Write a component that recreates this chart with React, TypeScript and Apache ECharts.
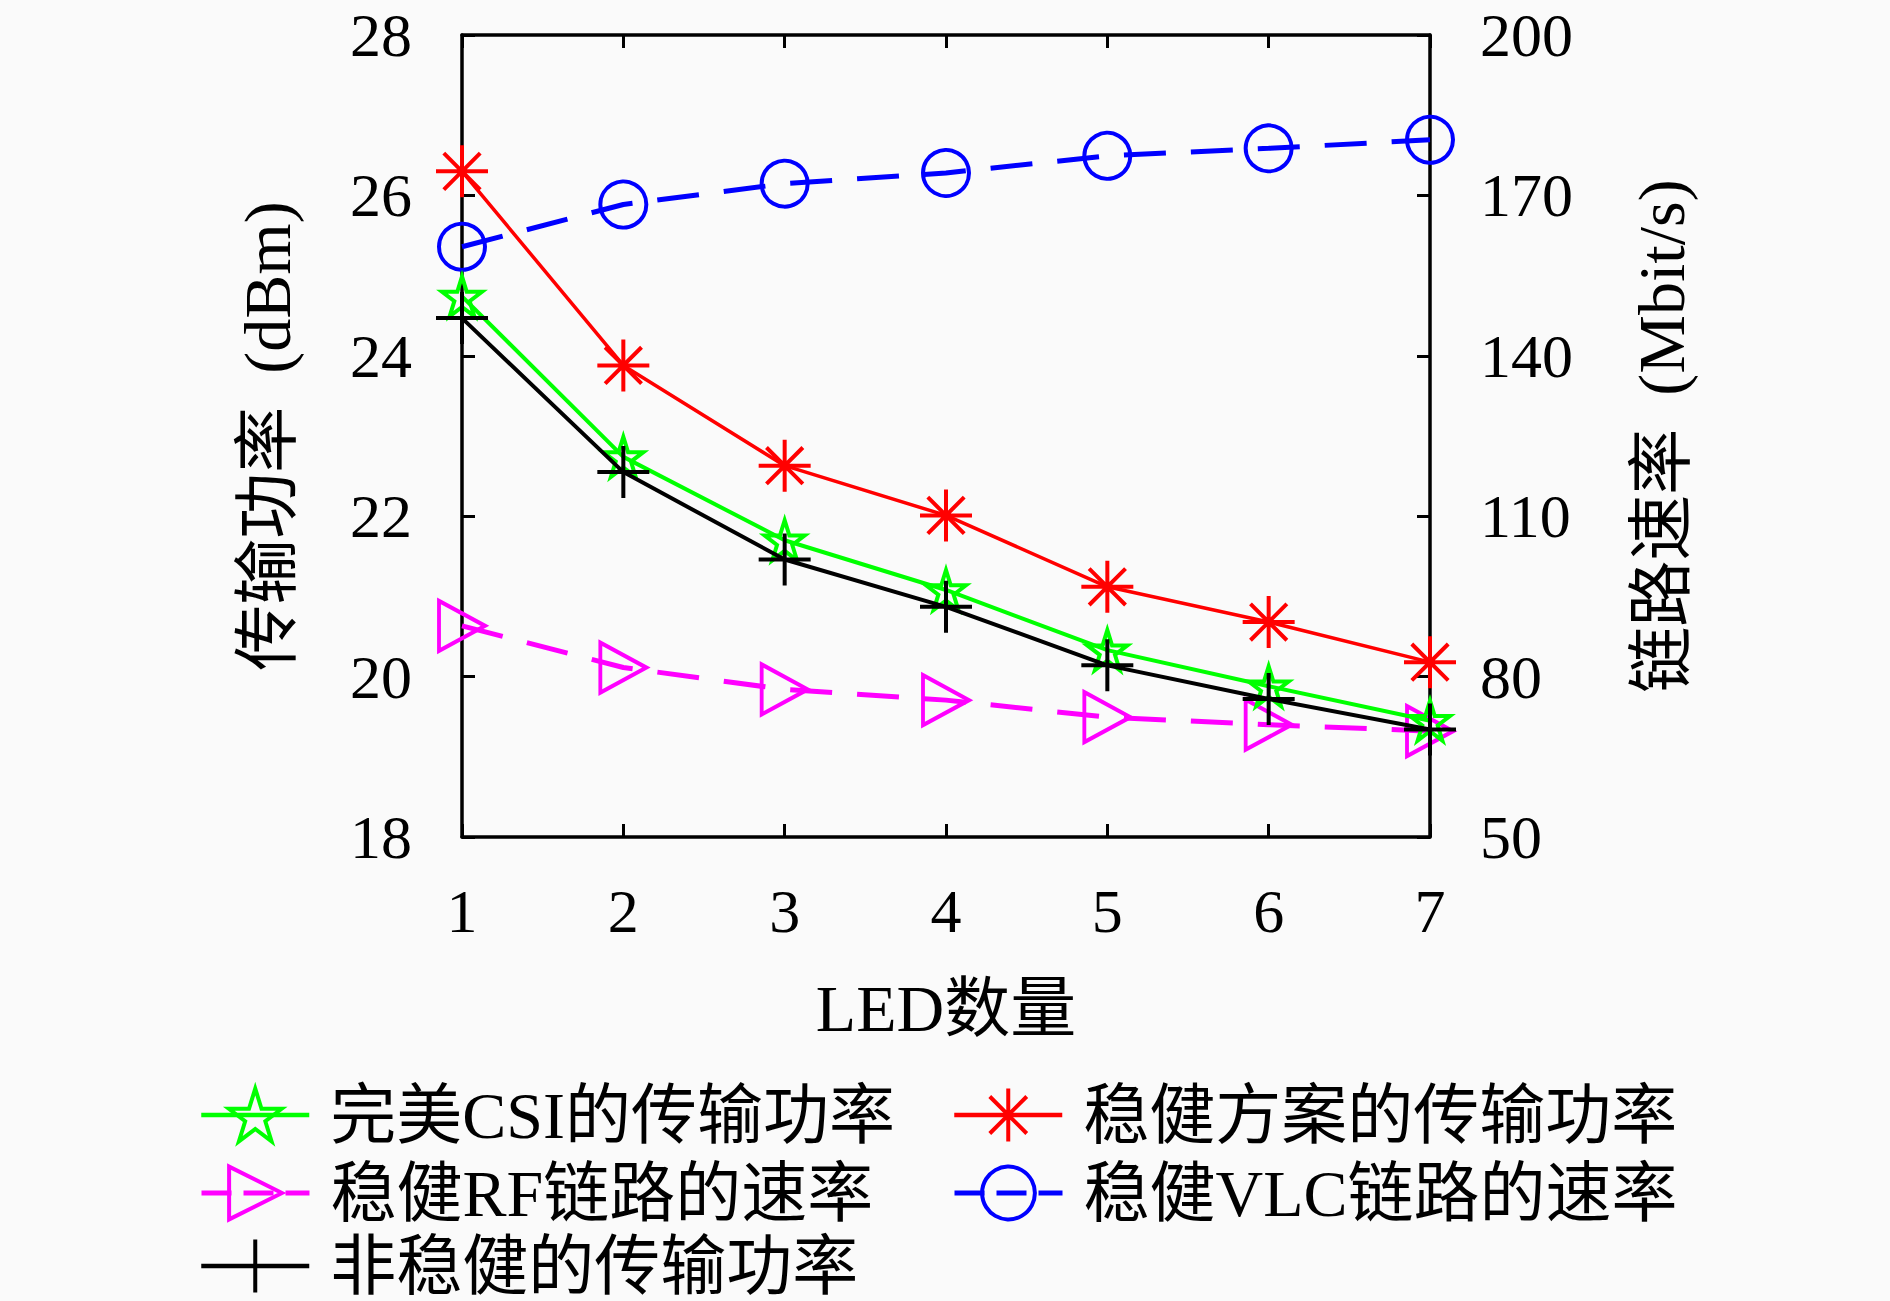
import React, { useEffect, useRef } from "react";
import * as echarts from "echarts";

// ---- data ----
const ledCounts = ["1", "2", "3", "4", "5", "6", "7"];
const perfectCsiPower = [24.74, 22.74, 21.7, 21.08, 20.33, 19.88, 19.45];
const robustPower = [26.3, 23.88, 22.63, 22.01, 21.12, 20.68, 20.18];
const rfRate = [89.5, 81.7, 77.6, 75.6, 72.4, 71.0, 69.8];
const vlcRate = [160.4, 168.3, 172.2, 174.2, 177.4, 178.8, 180.4];
const nonRobustPower = [24.47, 22.55, 21.46, 20.87, 20.14, 19.72, 19.34];
const rightTicks = [50, 80, 110, 140, 170, 200];

const names = {
  csi: "完美CSI的传输功率",
  robust: "稳健方案的传输功率",
  rf: "稳健RF链路的速率",
  vlc: "稳健VLC链路的速率",
  non: "非稳健的传输功率",
};

const STAR =
  "path://M0,-1 L0.225,-0.309 L0.951,-0.309 L0.363,0.118 L0.588,0.809 L0,0.382 L-0.588,0.809 L-0.363,0.118 L-0.951,-0.309 L-0.225,-0.309 Z";
const ASTER =
  "path://M0,-1 L0,1 M-1,0 L1,0 M-0.7,-0.7 L0.7,0.7 M-0.7,0.7 L0.7,-0.7";
const PLUS = "path://M0,-1 L0,1 M-1,0 L1,0";
const TRI = "path://M-1,-1 L1,0 L-1,1 Z";

const FONT = "'Liberation Serif', 'DejaVu Serif', 'Noto Sans CJK SC', serif";

export default function App() {
  const ref = useRef<HTMLDivElement>(null);
  useEffect(() => {
    if (!ref.current) return;
    const chart = echarts.init(ref.current, null, { renderer: "svg" });
    const mk = (
      name: string,
      data: number[],
      color: string,
      symbol: string,
      size: number | number[],
      yAxisIndex: number,
      dashed: boolean,
      width: number,
      z: number
    ) => ({
      name,
      type: "line",
      data,
      yAxisIndex,
      symbol,
      symbolSize: size,
      showAllSymbol: true,
      z,
      lineStyle: {
        color,
        width,
        type: dashed ? [42, 25] : "solid",
      },
      itemStyle: {
        color: "rgba(0,0,0,0)",
        borderColor: color,
        borderWidth: 4,
      },
      emphasis: { disabled: true },
    });
    const axisLine = { show: true, onZero: false, lineStyle: { color: "#000", width: 3.5 } };
    const tick = { show: true, inside: true, length: 13, lineStyle: { color: "#000", width: 3 } };
    const labelStyle = { color: "#000", fontFamily: FONT, fontSize: 62 };
    const leg = (
      name: string,
      color: string,
      left: number,
      top: number,
      dashed: boolean
    ) => ({
      orient: "vertical",
      left,
      top,
      padding: 0,
      itemWidth: 108,
      itemHeight: 66,
      textStyle: {
        color: "#000",
        fontFamily: FONT,
        fontSize: 66,
        lineHeight: 66,
        padding: [0, 0, 0, 16],
      },
      selectedMode: false,
      data: [
        {
          name,
          itemStyle: { color: "rgba(0,0,0,0)", borderColor: color, borderWidth: 4 },
          lineStyle: dashed ? { type: [30, 12], width: 5 } : { width: 4.5 },
        },
      ],
    });
    chart.setOption({
      animation: false,
      backgroundColor: "#fafafa",
      grid: { left: 462, right: 460, top: 35, bottom: 464, containLabel: false },
      xAxis: [
        {
          type: "category",
          data: ledCounts,
          boundaryGap: false,
          position: "bottom",
          axisLine,
          axisTick: tick,
          axisLabel: { ...labelStyle, margin: 43 },
          splitLine: { show: false },
          name: "LED数量",
          nameLocation: "middle",
          nameGap: 138,
          nameTextStyle: { color: "#000", fontFamily: FONT, fontSize: 66 },
        },
        {
          type: "category",
          data: ledCounts,
          boundaryGap: false,
          position: "top",
          axisLine,
          axisTick: tick,
          axisLabel: { show: false },
          splitLine: { show: false },
        },
      ],
      yAxis: [
        {
          type: "value",
          min: 18,
          max: 28,
          interval: 2,
          position: "left",
          axisLine,
          axisTick: tick,
          axisLabel: { ...labelStyle, margin: 50 },
          splitLine: { show: false },
          name: "传输功率\u2002(dBm)",
          nameLocation: "middle",
          nameGap: 162,
          nameRotate: 90,
          nameTextStyle: { color: "#000", fontFamily: FONT, fontSize: 66 },
        },
        {
          type: "value",
          min: 50,
          max: 200,
          position: "right",
          axisLine,
          axisTick: { ...tick, customValues: rightTicks },
          axisLabel: { ...labelStyle, margin: 50, customValues: rightTicks },
          splitLine: { show: false },
          name: "链路速率\u2002(Mbit/s)",
          nameLocation: "middle",
          nameGap: 198,
          nameRotate: 90,
          nameTextStyle: { color: "#000", fontFamily: FONT, fontSize: 66 },
        },
      ],
      legend: [
        leg(names.csi, "#00ff00", 199, 1082, false),
        leg(names.rf, "#ff00ff", 199, 1160, true),
        leg(names.non, "#000000", 199, 1233, false),
        leg(names.robust, "#ff0000", 952, 1082, false),
        leg(names.vlc, "#0000ff", 952, 1160, true),
      ],
      series: [
        mk(names.csi, perfectCsiPower, "#00ff00", STAR, 40, 0, false, 4, 3),
        mk(names.robust, robustPower, "#ff0000", ASTER, 52, 0, false, 3.5, 3),
        mk(names.rf, rfRate, "#ff00ff", TRI, [46, 50], 1, true, 5, 2),
        mk(names.vlc, vlcRate, "#0000ff", "circle", 46, 1, true, 5, 2),
        mk(names.non, nonRobustPower, "#000000", PLUS, 52, 0, false, 4, 4),
      ],
    });
    return () => chart.dispose();
  }, []);
  return (
    <div
      ref={ref}
      style={{ position: "fixed", left: 0, top: 0, width: 1890, height: 1301 }}
    />
  );
}
